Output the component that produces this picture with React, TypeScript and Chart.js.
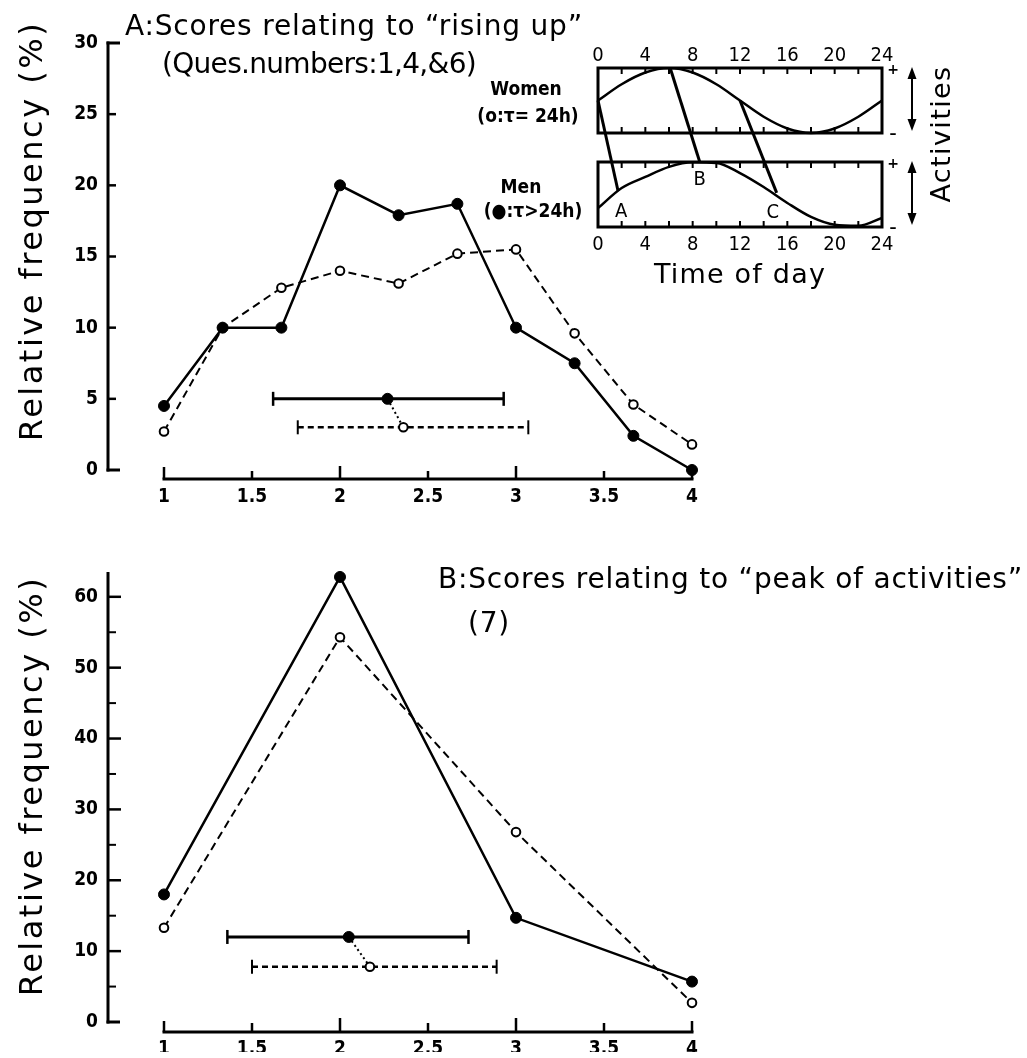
import React, { useEffect, useRef } from 'react';
import { Chart, registerables } from 'chart.js';

Chart.register(...registerables);

const PAGE_W = 1027;
const PAGE_H = 1058;

const SANS = '"DejaVu Sans", sans-serif';
const COND = '"DejaVu Sans Condensed", "DejaVu Sans", sans-serif';
const NARROW = '"Liberation Sans Narrow", "DejaVu Sans Condensed", sans-serif';

// ---------- Panel A : scores relating to "rising up" ----------
const scoresA = [1, 1.333, 1.667, 2, 2.333, 2.667, 3, 3.333, 3.667, 4];
const menA = [4.5, 10, 10, 20, 17.9, 18.7, 10, 7.5, 2.4, 0];
const womenA = [2.7, 10, 12.8, 14, 13.1, 15.2, 15.5, 9.6, 4.6, 1.8];
const menRangeA = [1.62, 2.27, 2.93]; // low, mean, high
const menLevelA = 5;
const womenRangeA = [1.76, 2.36, 3.07];
const womenLevelA = 3;
const yTicksA = [0, 5, 10, 15, 20, 25, 30];

// ---------- Panel B : scores relating to "peak of activities" ----------
const scoresB = [1, 2, 3, 4];
const menB = [18, 62.8, 14.7, 5.7];
const womenB = [13.3, 54.3, 26.8, 2.7];
const menRangeB = [1.36, 2.05, 2.73];
const menLevelB = 12;
const womenRangeB = [1.5, 2.17, 2.89];
const womenLevelB = 7.8;
const yTicksB = [0, 10, 20, 30, 40, 50, 60];
const yMinorTicksB = [5, 15, 25, 35, 45, 55];

const scoreTicks = [1, 1.5, 2, 2.5, 3, 3.5, 4];
const scoreTickLabels = ['1', '1.5', '2', '2.5', '3', '3.5', '4'];

// ---------- Inset : activity rhythms ----------
const hours = [0, 2, 4, 6, 8, 10, 12, 14, 16, 18, 20, 22, 24];
const womenActivity = [0, 0.5, 0.86, 1, 0.86, 0.5, 0, -0.5, -0.86, -1, -0.86, -0.5, 0];
const menActivity = [-0.42, 0.2, 0.54, 0.85, 0.99, 0.97, 0.66, 0.23, -0.26, -0.69, -0.93, -0.96, -0.72];
const hourTicks = [0, 4, 8, 12, 16, 20, 24];
const hourMinorTicks = [2, 4, 6, 8, 10, 12, 14, 16, 18, 20, 22];
const phaseNames = ['A', 'B', 'C'];
const phaseWomenHour = [0, 6.1, 12];
const phaseWomenLevel = [0, 1, 0];
const phaseMenHour = [1.7, 8.6, 15.1];
const phaseMenLevel = [0.1, 1, 0.05];

// ---------- drawing helpers ----------
function seg(ctx: any, x1: number, y1: number, x2: number, y2: number, w: number, dash: number[] = []) {
  ctx.save();
  ctx.lineWidth = w;
  ctx.strokeStyle = '#000';
  ctx.setLineDash(dash);
  ctx.beginPath();
  ctx.moveTo(x1, y1);
  ctx.lineTo(x2, y2);
  ctx.stroke();
  ctx.restore();
}

function drawText(ctx: any, str: string, x: number, y: number, font: string, align = 'left', spacing = 0, rotate = false) {
  ctx.save();
  ctx.font = font;
  ctx.fillStyle = '#000';
  ctx.textAlign = align;
  ctx.textBaseline = 'alphabetic';
  try { ctx.letterSpacing = spacing + 'px'; } catch (e) { /* ignore */ }
  ctx.translate(x, y);
  if (rotate) ctx.rotate(-Math.PI / 2);
  ctx.fillText(str, 0, 0);
  ctx.restore();
}

function arrow(ctx: any, x: number, y1: number, y2: number) {
  seg(ctx, x, y1 + 8, x, y2 - 8, 2);
  ctx.save();
  ctx.fillStyle = '#000';
  ctx.beginPath();
  ctx.moveTo(x, y1); ctx.lineTo(x - 4.5, y1 + 12); ctx.lineTo(x + 4.5, y1 + 12); ctx.closePath(); ctx.fill();
  ctx.beginPath();
  ctx.moveTo(x, y2); ctx.lineTo(x - 4.5, y2 - 12); ctx.lineTo(x + 4.5, y2 - 12); ctx.closePath(); ctx.fill();
  ctx.restore();
}

// ---------- plugins ----------
const panelAxes = {
  id: 'panelAxes',
  afterDraw(chart: any, _args: any, o: any) {
    const { ctx, chartArea } = chart;
    const xs = chart.scales.x;
    const ys = chart.scales.y;
    const ax = chartArea.left;
    const y0 = ys.getPixelForValue(0);
    seg(ctx, ax, ys.getPixelForValue(o.axisTop) - (o.axisTopCap ? 1.5 : 0), ax, y0 + 1.5, 3);
    o.major.forEach((v: number) => {
      const p = ys.getPixelForValue(v);
      seg(ctx, ax, p, ax + o.majorLen, p, 2.5);
    });
    o.minor.forEach((v: number) => {
      const p = ys.getPixelForValue(v);
      seg(ctx, ax, p, ax + o.minorLen, p, 2);
    });
    o.feet.forEach((v: number) => {
      const p = ys.getPixelForValue(v);
      seg(ctx, ax - 1.5, p, ax + o.footLen, p, 3);
    });
    const xy = y0 + o.xGap;
    const first = xs.getPixelForValue(scoreTicks[0]);
    const last = xs.getPixelForValue(scoreTicks[scoreTicks.length - 1]);
    seg(ctx, first - 1.5, xy, last + 1.5, xy, 3);
    scoreTicks.forEach((v, i) => {
      const p = xs.getPixelForValue(v);
      const len = i === 0 || i === scoreTicks.length - 1 ? o.endTick : Number.isInteger(v) ? o.intTick : o.halfTick;
      seg(ctx, p, xy, p, xy - len, 2.5);
    });
    o.texts.forEach((t: any) => drawText(ctx, t.text, t.x, t.y, `28px ${SANS}`, 'left', t.spacing));
    drawText(ctx, o.yTitle.text, o.yTitle.x, o.yTitle.y, `32px ${SANS}`, 'center', 2.5, true);
  },
};

const insetDecor = {
  id: 'insetDecor',
  afterDraw(chart: any) {
    const { ctx } = chart;
    const xs = chart.scales.xBottom;
    const yW = chart.scales.yW;
    const yM = chart.scales.yM;
    const L = xs.getPixelForValue(0);
    const R = xs.getPixelForValue(24);
    const boxes = [
      [yW.getPixelForValue(1), yW.getPixelForValue(-1)],
      [yM.getPixelForValue(1), yM.getPixelForValue(-1)],
    ];
    ctx.save();
    ctx.strokeStyle = '#000';
    boxes.forEach(([t, b]) => {
      ctx.lineWidth = 3;
      ctx.strokeRect(L, t, R - L, b - t);
      hourMinorTicks.forEach((h) => {
        const px = xs.getPixelForValue(h);
        seg(ctx, px, t, px, t + 6, 2);
        seg(ctx, px, b, px, b - 6, 2);
      });
      drawText(ctx, '+', R + 11, t + 6, `bold 14px ${SANS}`, 'center');
      drawText(ctx, '\u2013', R + 11, b + 5, `bold 14px ${SANS}`, 'center');
      arrow(ctx, R + 30, t - 1, b - 2);
    });
    ctx.restore();
    const labelDx = [3, 0, -4];
    const labelDy = [26, 23, 25];
    phaseNames.forEach((name, i) => {
      const x1 = xs.getPixelForValue(phaseWomenHour[i]);
      const y1 = yW.getPixelForValue(phaseWomenLevel[i]);
      const x2 = xs.getPixelForValue(phaseMenHour[i]);
      const y2 = yM.getPixelForValue(phaseMenLevel[i]);
      seg(ctx, x1, y1, x2, y2, 3);
      drawText(ctx, name, x2 + labelDx[i], y2 + labelDy[i], `20px ${COND}`, 'center');
    });
    drawText(ctx, 'Activities', 950, 134, `27px ${SANS}`, 'center', 1.4, true);
    drawText(ctx, 'Time of day', 740, 283, `27px ${SANS}`, 'center', 1.2);
    drawText(ctx, 'Women', 526, 95, `bold 19px ${COND}`, 'center');
    drawText(ctx, '(o:\u03c4= 24h)', 528, 122, `bold 19px ${COND}`, 'center');
    drawText(ctx, 'Men', 521, 193, `bold 19px ${COND}`, 'center');
    drawText(ctx, '(\u25cf:\u03c4>24h)', 533, 217, `bold 19px ${COND}`, 'center');
  },
};

// ---------- config builders ----------
function panelDatasets(scores: number[], men: number[], women: number[], menR: number[], menL: number, womenR: number[], womenL: number) {
  const common = { borderColor: '#000', pointBorderColor: '#000', clip: false as any };
  return [
    { ...common, label: 'Men', data: scores.map((s, i) => ({ x: s, y: men[i] })), showLine: true, borderWidth: 2.5,
      pointRadius: 5.5, pointBackgroundColor: '#000', pointBorderWidth: 1 },
    { ...common, label: 'Women', data: scores.map((s, i) => ({ x: s, y: women[i] })), showLine: true, borderWidth: 2,
      borderDash: [8, 5], pointRadius: 4.3, pointBackgroundColor: '#fff', pointBorderWidth: 2 },
    { ...common, label: 'Men mean', data: [{ x: menR[1], y: menL }], pointRadius: 5.5, pointBackgroundColor: '#000', pointBorderWidth: 1 },
    { ...common, label: 'Women mean', data: [{ x: womenR[1], y: womenL }], pointRadius: 4.3, pointBackgroundColor: '#fff', pointBorderWidth: 2 },
    { ...common, label: 'link', data: [{ x: menR[1], y: menL }, { x: womenR[1], y: womenL }], showLine: true, borderWidth: 2,
      borderDash: [2, 3], pointRadius: 0 },
    { ...common, label: 'Men range', data: [{ x: menR[0], y: menL }, { x: menR[2], y: menL }], showLine: true, borderWidth: 3,
      pointStyle: 'line', rotation: 90, pointRadius: 7, pointBorderWidth: 2.5 },
    { ...common, label: 'Women range', data: [{ x: womenR[0], y: womenL }, { x: womenR[2], y: womenL }], showLine: true, borderWidth: 2.5,
      borderDash: [6, 4], pointStyle: 'line', rotation: 90, pointRadius: 7, pointBorderWidth: 2 },
  ];
}

const X_MIN = 1 - 56 / 176;
const X_MAX = 4 + 35 / 176;
const CHART_RIGHT = 727;

function panelConfig(p: any): any {
  return {
    type: 'scatter',
    data: { datasets: p.datasets },
    options: {
      animation: false,
      responsive: false,
      devicePixelRatio: 1,
      events: [],
      layout: { padding: { left: 0, right: PAGE_W - CHART_RIGHT, top: p.top, bottom: PAGE_H - p.bottom - p.xHeight } },
      plugins: {
        legend: { display: false },
        tooltip: { enabled: false },
        panelAxes: p.axes,
      },
      scales: {
        x: {
          type: 'linear', min: X_MIN, max: X_MAX,
          grid: { display: false, drawTicks: false }, border: { display: false },
          afterBuildTicks: (s: any) => { s.ticks = scoreTicks.map((v) => ({ value: v })); },
          afterFit: (s: any) => { s.height = p.xHeight; },
          ticks: {
            autoSkip: false, maxRotation: 0, padding: p.xPad, color: '#000',
            font: { family: COND, size: 19, weight: 'bold' },
            callback: (v: number) => scoreTickLabels[scoreTicks.indexOf(v)] ?? String(v),
          },
        },
        y: {
          type: 'linear', min: 0, max: p.yMax,
          grid: { display: false, drawTicks: false }, border: { display: false },
          afterBuildTicks: (s: any) => { s.ticks = p.yTicks.map((v: number) => ({ value: v })); },
          afterFit: (s: any) => { s.width = 108; },
          ticks: { padding: 10, color: '#000', font: { family: COND, size: 19, weight: 'bold' } },
        },
      },
    },
    plugins: [panelAxes],
  };
}

const configA = panelConfig({
  datasets: panelDatasets(scoresA, menA, womenA, menRangeA, menLevelA, womenRangeA, womenLevelA),
  top: 43, bottom: 470, xHeight: 40, xPad: 16, yMax: 30, yTicks: yTicksA,
  axes: {
    axisTop: 30, axisTopCap: true, major: [5, 10, 15, 20, 25], majorLen: 8, minor: [], minorLen: 0, feet: [0, 30], footLen: 12,
    xGap: 9, endTick: 12, intTick: 13, halfTick: 8,
    texts: [
      { text: 'A:Scores relating to \u201crising up\u201d', x: 125, y: 35, spacing: 0.8 },
      { text: '(Ques.numbers:1,4,&6)', x: 162, y: 73, spacing: -0.7 },
    ],
    yTitle: { text: 'Relative frequency (%)', x: 42, y: 231 },
  },
});

const configB = panelConfig({
  datasets: panelDatasets(scoresB, menB, womenB, menRangeB, menLevelB, womenRangeB, womenLevelB),
  top: 572, bottom: 1022, xHeight: 30, xPad: 16, yMax: 63.5, yTicks: yTicksB,
  axes: {
    axisTop: 63.5, axisTopCap: false, major: [10, 20, 30, 40, 50, 60], majorLen: 13, minor: yMinorTicksB, minorLen: 8, feet: [0], footLen: 12,
    xGap: 10, endTick: 11, intTick: 14, halfTick: 9,
    texts: [
      { text: 'B:Scores relating to \u201cpeak of activities\u201d', x: 438, y: 588, spacing: 0.8 },
      { text: '(7)', x: 468, y: 632, spacing: 0.8 },
    ],
    yTitle: { text: 'Relative frequency (%)', x: 42, y: 786 },
  },
});

const insetX = (position: string, height: number, pad: number): any => ({
  type: 'linear', axis: 'x', position, min: 0, max: 24,
  grid: { display: false, drawTicks: false }, border: { display: false },
  afterBuildTicks: (s: any) => { s.ticks = hourTicks.map((v) => ({ value: v })); },
  afterFit: (s: any) => { s.height = height; },
  ticks: { autoSkip: false, maxRotation: 0, padding: pad, color: '#000', font: { family: NARROW, size: 20 }, callback: (v: number) => String(v) },
});

const configInset: any = {
  type: 'scatter',
  data: {
    datasets: [
      { label: 'Women (\u03c4 = 24h)', data: hours.map((h, i) => ({ x: h, y: womenActivity[i] })), xAxisID: 'xBottom', yAxisID: 'yW',
        showLine: true, borderColor: '#000', borderWidth: 2.5, pointRadius: 0, cubicInterpolationMode: 'monotone' },
      { label: 'Men (\u03c4 > 24h)', data: hours.map((h, i) => ({ x: h, y: menActivity[i] })), xAxisID: 'xBottom', yAxisID: 'yM',
        showLine: true, borderColor: '#000', borderWidth: 2.5, pointRadius: 0, cubicInterpolationMode: 'monotone' },
    ],
  },
  options: {
    animation: false,
    responsive: false,
    devicePixelRatio: 1,
    events: [],
    layout: { padding: { left: 598, right: PAGE_W - 882, top: 68 - 25, bottom: PAGE_H - 227 - 30 } },
    plugins: { legend: { display: false }, tooltip: { enabled: false } },
    scales: {
      xTop: insetX('top', 25, 0),
      xBottom: insetX('bottom', 30, 6),
      yW: { type: 'linear', axis: 'y', display: false, min: 1 - 159 / 32.5, max: 1 },
      yM: { type: 'linear', axis: 'y', display: false, min: -1, max: -1 + 159 / 32.5 },
    },
  },
  plugins: [insetDecor],
};

export default function App() {
  const refA = useRef<HTMLCanvasElement>(null);
  const refB = useRef<HTMLCanvasElement>(null);
  const refI = useRef<HTMLCanvasElement>(null);

  useEffect(() => {
    const charts = [
      new Chart(refA.current as HTMLCanvasElement, configA),
      new Chart(refB.current as HTMLCanvasElement, configB),
      new Chart(refI.current as HTMLCanvasElement, configInset),
    ];
    return () => charts.forEach((c) => c.destroy());
  }, []);

  const cs: React.CSSProperties = { position: 'absolute', left: 0, top: 0, width: PAGE_W, height: PAGE_H };
  return (
    <div style={{ position: 'absolute', left: 0, top: 0, width: PAGE_W, height: PAGE_H, background: '#fff', overflow: 'hidden' }}>
      <canvas ref={refA} width={PAGE_W} height={PAGE_H} style={cs} />
      <canvas ref={refB} width={PAGE_W} height={PAGE_H} style={cs} />
      <canvas ref={refI} width={PAGE_W} height={PAGE_H} style={cs} />
    </div>
  );
}
